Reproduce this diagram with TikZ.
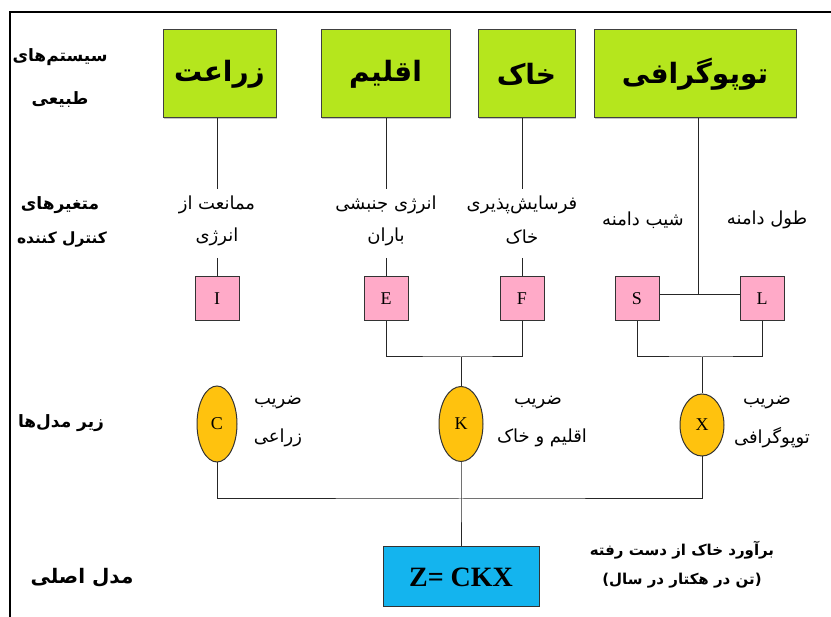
\documentclass[tikz,border=0pt]{standalone}
\usepackage{fontspec}
\setmainfont{Liberation Serif}
\newfontfamily\farsifont[Script=Arabic]{DejaVu Sans}
\TeXXeTstate=1
\usetikzlibrary{shapes.geometric,shadows}
\def\fa#1{{\farsifont\beginR #1\endR}}
\definecolor{sysgreen}{RGB}{181,230,29}
\definecolor{varpink}{RGB}{255,170,200}
\definecolor{subgold}{RGB}{255,194,14}
\definecolor{mainblue}{RGB}{20,180,238}
\tikzset{
  sysbox/.style={draw=black!75, line width=1pt, fill=sysgreen, minimum height=88pt, inner sep=0pt,
    font=\fontsize{28}{30}\selectfont\bfseries, drop shadow={shadow xshift=1pt, shadow yshift=-1.5pt, fill=black!45}},
  varbox/.style={draw=black!80, line width=1pt, fill=varpink, minimum width=44pt, minimum height=44pt,
    inner sep=0pt, font=\fontsize{18}{19}\selectfont},
  subell/.style={ellipse, draw=black!80, line width=1pt, fill=subgold, inner sep=0pt,
    font=\fontsize{18}{19}\selectfont},
  txt/.style={inner sep=0pt, font=\fontsize{18}{19}\selectfont},
  rowlbl/.style={inner sep=0pt, font=\fontsize{17}{19}\selectfont\bfseries},
  wire/.style={draw=black!85, line width=1pt}
}

\begin{document}
\begin{tikzpicture}[x=1pt,y=-1pt]
		\useasboundingbox (0,0) rectangle (831,617);
		%%%%% FRAME %%%%%
		\draw[line width=2pt] (10,617) -- (10,12) -- (831,12);
		
		%%%%% ROW LABELS %%%%%
		\node[rowlbl] (lblsys) at (60,57) {\fa{سیستم‌های}};
		\node[rowlbl] (lblsysb) at (60,100) {\fa{طبیعی}};
		\node[rowlbl] (lblvar) at (60,205) {\fa{متغیرهای}};
		\node[rowlbl, font=\fontsize{15.5}{18}\selectfont\bfseries] (lblvarb) at (62,240) {\fa{کنترل کننده}};
		\node[rowlbl] (lblsub) at (61,423) {\fa{زیر مدل‌ها}};
		\node[rowlbl, font=\fontsize{20}{22}\selectfont\bfseries] (lblmain) at (82,578) {\fa{مدل اصلی}};
		
		%%%%% SYSTEMS %%%%%
		\node[sysbox, minimum width=113pt] (zeraat) at (219.5,74) {\fa{زراعت}};
		\node[sysbox, minimum width=129pt] (eqlim) at (385.5,74) {\fa{اقلیم}};
		\node[sysbox, minimum width=97pt] (khak) at (526.5,74) {\fa{خاک}};
		\node[sysbox, minimum width=202pt] (topo) at (695,74) {\fa{توپوگرافی}};
		
		%%%%% CONTROL VARIABLES %%%%%
		\node[txt] (mamanaat) at (217,205) {\fa{ممانعت از}};
		\node[txt] (enerzhi) at (217,237) {\fa{انرژی}};
		\node[txt] (jonbeshi) at (386,205) {\fa{انرژی جنبشی}};
		\node[txt] (baran) at (386,237) {\fa{باران}};
		\node[txt] (farsayesh) at (522,205) {\fa{فرسایش‌پذیری}};
		\node[txt] (khaktxt) at (522,237) {\fa{خاک}};
		\node[txt] (shib) at (643,220) {\fa{شیب دامنه}};
		\node[txt] (tool) at (767,220) {\fa{طول دامنه}};
		
		\node[varbox] (pI) at (217,299) {I};
		\node[varbox] (pE) at (386,299) {E};
		\node[varbox] (pF) at (522,299) {F};
		\node[varbox] (pS) at (637,299) {S};
		\node[varbox] (pL) at (762,299) {L};
		
		\coordinate (gI) at (217,189);
		\coordinate (hI) at (217,258);
		\coordinate (gE) at (386,189);
		\coordinate (hE) at (386,258);
		\coordinate (gF) at (522,189);
		\coordinate (hF) at (522,258);
		\coordinate (jTop) at (698,295);
		\draw[wire] (zeraat.south -| gI) -- (gI);
		\draw[wire] (hI) -- (pI.north);
		\draw[wire] (eqlim.south -| gE) -- (gE);
		\draw[wire] (hE) -- (pE.north);
		\draw[wire] (khak.south -| gF) -- (gF);
		\draw[wire] (hF) -- (pF.north);
		\draw[wire] (topo.south -| jTop) -- (jTop);
		\draw[wire] (pS.east |- jTop) -- (pL.west |- jTop);
		
		%%%%% SUB MODELS %%%%%
		\node[subell, minimum width=40pt, minimum height=76pt] (C) at (217,424) {C};
		\node[subell, minimum width=44pt, minimum height=75pt] (K) at (461,424) {K};
		\node[subell, minimum width=44pt, minimum height=62pt] (X) at (702,425) {X};
		
		\node[txt] (zaribC) at (278,403) {\fa{ضریب}};
		\node[txt] (zeraee) at (278,438) {\fa{زراعی}};
		\node[txt] (zaribK) at (538,403) {\fa{ضریب}};
		\node[txt] (eqlimkhak) at (542,438) {\fa{اقلیم و خاک}};
		\node[txt] (zaribX) at (767,403) {\fa{ضریب}};
		\node[txt] (topotxt) at (772,438) {\fa{توپوگرافی}};
		
		\coordinate (jEF) at (461,357);
		\coordinate (jSL) at (702,357);
		\draw[wire] (pE.south) |- (jEF) -| (pF.south);
		\draw[wire] (jEF) -- (K.north);
		\draw[wire] (pS.south) |- (jSL) -| (pL.south);
		\draw[wire] (jSL) -- (X.north);
		
		%%%%% MAIN MODEL %%%%%
		\node[draw=black!80, line width=1pt, fill=mainblue, minimum width=156pt, minimum height=60pt,
		  font=\fontsize{28}{30}\selectfont\bfseries] (Z) at (461,577) {Z= CKX};
		\node[txt, font=\fontsize{15}{16}\selectfont\bfseries] (baravord) at (682,550) {\fa{برآورد خاک از دست رفته}};
		\node[txt, font=\fontsize{15}{16}\selectfont\bfseries] (vahed) at (682,581) {\fa{(تن در هکتار در سال)}};
		
		\coordinate (jAll) at (461,499);
		\draw[wire] (C.south) |- (jAll) -| (X.south);
		\draw[wire] (K.south) -- (jAll) -- (Z.north);
		%%%%% END %%%%%
	\end{tikzpicture}
\end{document}
